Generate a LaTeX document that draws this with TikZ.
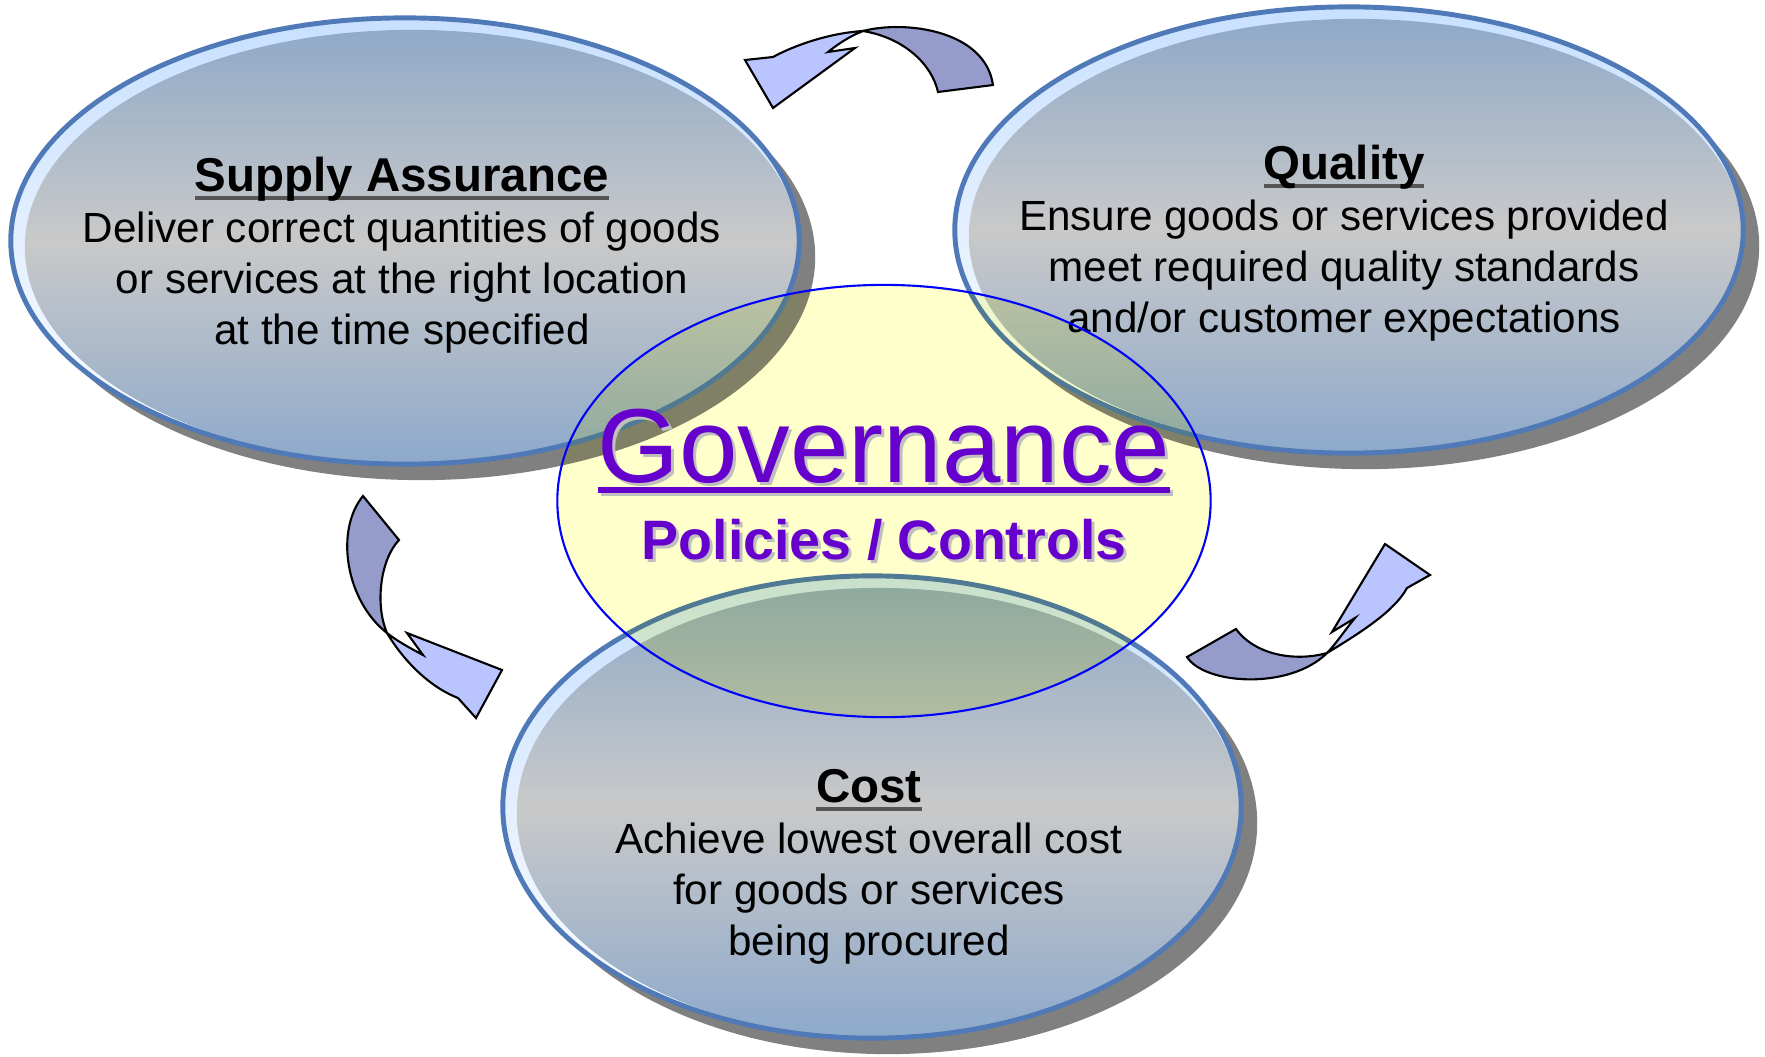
\documentclass[tikz,border=0pt]{standalone}
\usepackage{fontspec}
\setmainfont{Liberation Sans}
\usetikzlibrary{shapes.geometric,shadows}

\definecolor{rimBlue}{HTML}{C8E0FF}
\definecolor{edgeBlue}{HTML}{5079B8}
\definecolor{fillTop}{HTML}{8CA8C8}
\definecolor{fillMid}{HTML}{C9C9C9}
\definecolor{fillBot}{HTML}{8DA9CB}
\definecolor{govYellow}{HTML}{FFFFCC}
\definecolor{govViolet}{HTML}{6600CC}
\definecolor{arrowFront}{HTML}{BAC4FF}
\definecolor{arrowBack}{HTML}{959CCC}
\definecolor{ulineGray}{HTML}{555555}

% underline in its own colour: #1 colour, #2 depth, #3 thickness, #4 text
\newcommand\ulined[4]{{\setbox0\hbox{#4}\rlap{\color{#1}\rule[-#2]{\wd0}{#3}}\box0}}
\newcommand\headfont{\fontsize{13.5}{14.5}\selectfont\bfseries}

\tikzset{
  aim/.style 2 args={ellipse, draw=edgeBlue, line width=1.4pt,
    inner sep=0pt, outer sep=0pt, minimum width=#1, minimum height=#2,
    top color=rimBlue, bottom color=white,
    drop shadow={shadow xshift=0.16cm, shadow yshift=-0.16cm, fill=black!50, opacity=1},
    path picture={\shade[top color=fillTop, bottom color=fillBot, middle color=fillMid]
      ([shift={(0.07cm,-0.06cm)}]path picture bounding box.center)
      ellipse [x radius=#1/2-0.07cm, y radius=#2/2-0.06cm];}},
  % base anchor sits on the last line
  aimtext/.style={anchor=base, align=center, font=\fontsize{12}{14.5}\selectfont},
  govlens/.style={ellipse, fill=govYellow, inner sep=0pt, outer sep=0pt,
    minimum width=6.53cm, minimum height=4.32cm},
  govword/.style={anchor=base, inner sep=0pt, font=\fontsize{29.9}{34}\selectfont},
  govsub/.style={anchor=base, inner sep=0pt, font=\fontsize{15.8}{18}\selectfont\bfseries},
  twist/.style={draw=black, line width=0.6pt, line join=miter},
}

\begin{document}
\begin{tikzpicture}[x=0.01cm, y=-0.01cm]
  \useasboundingbox (0,0) rectangle (1765,1057);

  % the three goals
  \node[aim={7.88cm}{4.46cm}] (supply)  at (405,241) {};
  \node[aim={7.88cm}{4.46cm}] (quality) at (1349,230) {};
  \node[aim={7.38cm}{4.62cm}] (cost)    at (872,807) {};

  \node[aimtext] (supplytext) at (402,344)
    {{\headfont\ulined{ulineGray}{2.6pt}{1.1pt}{Supply Assurance}}\\
     Deliver correct quantities of goods\\
     or services at the right location\\
     at the time specified};
  \node[aimtext] (qualitytext) at (1344,332)
    {{\headfont\ulined{ulineGray}{2.6pt}{1.1pt}{Quality}}\\
     Ensure goods or services provided\\
     meet required quality standards\\
     and/or customer expectations};
  \node[aimtext] (costtext) at (869,955)
    {{\headfont\ulined{ulineGray}{2.6pt}{1.1pt}{Cost}}\\
     Achieve lowest overall cost\\
     for goods or services\\
     being procured};

  % curved arrows, back face then front face
  \path[twist, fill=arrowBack] (863,31) .. controls (905,20) and (985,30) .. (993,85)
    -- (938,92) .. controls (932,65) and (905,38) .. cycle;
  \path[twist, fill=arrowFront] (773,108) -- (745,60) -- (773,57)
    .. controls (795,45) and (830,33) .. (863,31)
    .. controls (850,36) and (838,44) .. (828,52) -- (855,48) -- cycle;

  \path[twist, fill=arrowBack] (363,496) -- (399,540)
    .. controls (380,560) and (375,605) .. (387,633)
    .. controls (345,600) and (335,530) .. cycle;
  \path[twist, fill=arrowFront] (387,633) .. controls (400,655) and (425,685) .. (458,698)
    -- (476,718) -- (502,670) -- (407,633) -- (423,655)
    .. controls (410,648) and (397,641) .. cycle;

  \path[twist, fill=arrowBack] (1187,657) .. controls (1205,685) and (1290,690) .. (1327,653)
    .. controls (1295,662) and (1255,655) .. (1236,629) -- cycle;
  \path[twist, fill=arrowFront] (1327,653) .. controls (1365,630) and (1395,610) .. (1407,588)
    -- (1430,575) -- (1385,544) -- (1332,632) -- (1355,618)
    .. controls (1345,630) and (1335,645) .. cycle;

  % governance in the middle
  \begin{scope}[blend mode=multiply]
    \node[govlens] (gov) at (884,501) {};
  \end{scope}
  \draw[blue, line width=0.6pt] (gov.center) ellipse [x radius=3.265cm, y radius=2.16cm];

  \node[govword, text=black!25] (govshade) at (887,485)
    {\ulined{black!25}{3.2pt}{1.7pt}{Governance}};
  \node[govword, text=govViolet] (govtitle) at (884,482)
    {\ulined{govViolet}{3.2pt}{1.7pt}{Governance}};
  \node[govsub, text=black!25] (subshade) at (887,562) {Policies / Controls};
  \node[govsub, text=govViolet] (govpolicy) at (884,559) {Policies / Controls};
\end{tikzpicture}
\end{document}
